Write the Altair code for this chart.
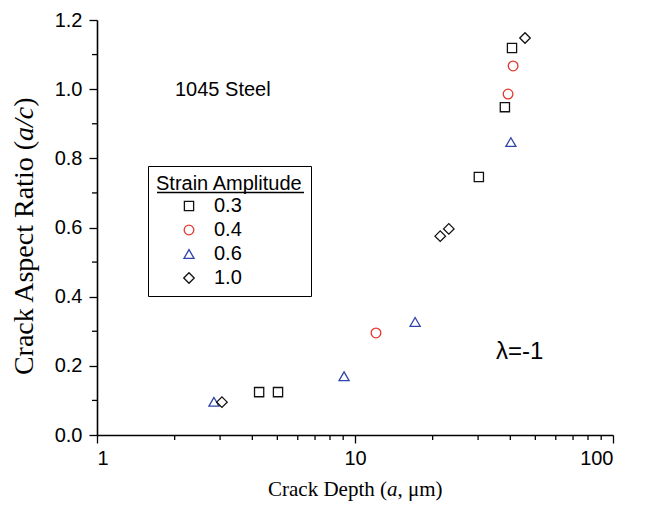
import altair as alt
import pandas as pd

# ---- data ----
amp_labels = ["0.3", "0.4", "0.6", "1.0"]

x_03 = [4.25, 5.03, 30.2, 38.1, 40.6]
y_03 = [0.124, 0.124, 0.746, 0.948, 1.119]

x_04 = [12.06, 39.2, 41.0]
y_04 = [0.295, 0.986, 1.067]

x_06 = [2.84, 9.07, 17.1, 40.2]
y_06 = [0.096, 0.170, 0.327, 0.847]

x_10 = [3.05, 21.4, 23.1, 45.6]
y_10 = [0.095, 0.575, 0.596, 1.148]

y_major = [0.0, 0.2, 0.4, 0.6, 0.8, 1.0, 1.2]
y_minor = [0.1, 0.3, 0.5, 0.7, 0.9, 1.1]
x_major = [1, 10, 100]
x_minor = [2, 3, 4, 5, 6, 7, 8, 9, 20, 30, 40, 50, 60, 70, 80, 90]

shape_range = ["square", "circle", "triangle-up", "diamond"]
color_range = ["#111111", "#e3372c", "#2f45a8", "#111111"]
size_range = [85, 110, 144, 169]

rows = []
for lab, xs, ys in zip(amp_labels, [x_03, x_04, x_06, x_10], [y_03, y_04, y_06, y_10]):
    for a, b in zip(xs, ys):
        rows.append({"depth": a, "ratio": b, "amp": lab})
df = pd.DataFrame(rows)

xscale = alt.Scale(type="log", domain=[1, 100], nice=False)
yscale = alt.Scale(domain=[0, 1.2], nice=False, zero=False)

xaxis = alt.Axis(values=x_major, format="d", title="", tickSize=8, labelPadding=5)
yaxis = alt.Axis(values=y_major, format=".1f", title="", tickSize=8, labelPadding=7)

legend = alt.Legend(
    title="Strain Amplitude",
    orient="none",
    legendX=51,
    legendY=146,
    strokeColor="black",
    padding=8,
    titleFont="Liberation Sans",
    titleFontSize=20,
    titleFontWeight="normal",
    titleColor="black",
    titlePadding=2,
    labelFont="Liberation Sans",
    labelFontSize=20,
    labelColor="black",
    symbolOffset=23,
    labelOffset=15,
    rowPadding=4,
    symbolStrokeWidth=1.3,
    symbolFillColor="transparent",
)

points = alt.Chart(df).mark_point(filled=False, strokeWidth=1.3, opacity=1).encode(
    x=alt.X("depth:Q", scale=xscale, axis=xaxis),
    y=alt.Y("ratio:Q", scale=yscale, axis=yaxis),
    shape=alt.Shape("amp:N", scale=alt.Scale(domain=amp_labels, range=shape_range), legend=legend),
    color=alt.Color("amp:N", scale=alt.Scale(domain=amp_labels, range=color_range), legend=legend),
    size=alt.Size("amp:N", scale=alt.Scale(domain=amp_labels, range=size_range), legend=legend),
)

ymin_df = pd.DataFrame({"ratio": y_minor})
xmin_df = pd.DataFrame({"depth": x_minor})

y_minor_ticks = alt.Chart(ymin_df).mark_rule(color="black", strokeWidth=1.3).encode(
    y=alt.Y("ratio:Q", scale=yscale, axis=yaxis),
    x=alt.value(-5),
    x2=alt.value(0),
)
x_minor_ticks = alt.Chart(xmin_df).mark_rule(color="black", strokeWidth=1.3).encode(
    x=alt.X("depth:Q", scale=xscale, axis=xaxis),
    y=alt.value(415),
    y2=alt.value(420),
)


def label(text, x, y, size, font="Liberation Sans", style="normal", align="left",
          angle=0, baseline="middle"):
    return alt.Chart(pd.DataFrame({"t": [text]})).mark_text(
        font=font, fontSize=size, fontStyle=style, align=align, baseline=baseline,
        angle=angle, color="black"
    ).encode(text="t:N", x=alt.value(x), y=alt.value(y))


steel = label("1045 Steel", 78, 70, 20)
lam = label("λ=-1", 399, 332, 24)

# axis titles with italic symbols (Times-metric serif)
SERIF = "Liberation Serif"
ytitle_1 = label("Crack Aspect Ratio (", -64, 121, 28, font=SERIF, align="right",
                 angle=270, baseline="alphabetic")
ytitle_2 = label("a/c", -64, 121, 28, font=SERIF, style="italic", align="left",
                 angle=270, baseline="alphabetic")
ytitle_3 = label(")", -64, 86.8, 28, font=SERIF, align="left",
                 angle=270, baseline="alphabetic")

xtitle_1 = label("Crack Depth (", 290, 476, 21, font=SERIF, align="right", baseline="alphabetic")
xtitle_2 = label("a", 290, 476, 21, font=SERIF, style="italic", align="left", baseline="alphabetic")
xtitle_3 = label(", μm)", 300.5, 476, 21, font=SERIF, align="left", baseline="alphabetic")

underline = alt.Chart(pd.DataFrame({"t": [0]})).mark_rule(color="black", strokeWidth=1.5).encode(
    x=alt.value(60), x2=alt.value(207), y=alt.value(172.5)
)

chart = (
    alt.layer(points, y_minor_ticks, x_minor_ticks, steel, lam, underline,
              ytitle_1, ytitle_2, ytitle_3, xtitle_1, xtitle_2, xtitle_3)
    .properties(
        width=516,
        height=415,
        autosize=alt.AutoSizeParams(type="none"),
        padding={"left": 97, "top": 20, "right": 32, "bottom": 70},
        background="white",
    )
    .configure_view(stroke=None)
    .configure_axis(
        grid=False,
        domainColor="black",
        domainWidth=1.6,
        tickColor="black",
        tickWidth=1.3,
        labelFont="Liberation Sans",
        labelFontSize=20,
        labelColor="black",
    )
)

chart.save("out.html", embed_options={"renderer": "svg", "actions": False})
